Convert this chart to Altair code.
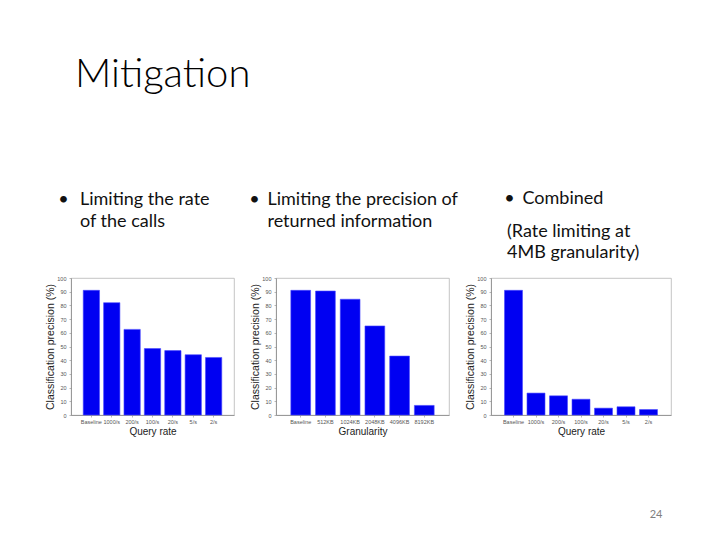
import altair as alt
import pandas as pd

# ---- data ----
rate_labels = ["Baseline", "1000/s", "200/s", "100/s", "20/s", "5/s", "2/s"]
rate_precision = [91, 82, 62.5, 48.5, 47, 44, 42]

gran_labels = ["Baseline", "512KB", "1024KB", "2048KB", "4096KB", "8192KB"]
gran_precision = [91, 90.5, 84.5, 65, 43, 7]

combined_labels = ["Baseline", "1000/s", "200/s", "100/s", "20/s", "5/s", "2/s"]
combined_precision = [91, 16, 14, 11.5, 5, 6, 4]

y_ticks = [0, 10, 20, 30, 40, 50, 60, 70, 80, 90, 100]

slide_title = "Mitigation"
bullet1 = ["Limiting the rate", "of the calls"]
bullet2 = ["Limiting the precision of", "returned information"]
bullet3 = ["Combined"]
note3 = ["(Rate limiting at", "4MB granularity)"]
page_number = "24"

TEXT_FONT = "Lato"
AX_FONT = "Liberation Sans"
PLOT_H = 137


def text_layer(text, x, y, size=18, color="#111111", align="left", line_height=21.5,
               font=TEXT_FONT, weight=400):
    return alt.Chart(alt.Data(values=[{}])).mark_text(
        text=text, align=align, baseline="alphabetic", font=font, fontWeight=weight,
        fontSize=size, color=color, lineHeight=line_height
    ).encode(x=alt.value(x), y=alt.value(y))


def panel(labels, values, xtitle, width, extra):
    df = pd.DataFrame({"cat": labels, "val": values})
    bars = alt.Chart(df).mark_bar(color="#0000f2", stroke="#4a4aff", strokeWidth=0.6).encode(
        x=alt.X("cat:N", sort=labels, title=xtitle,
                scale=alt.Scale(paddingInner=0.2, paddingOuter=0.6),
                axis=alt.Axis(labelAngle=0, labelFontSize=5.5, labelPadding=2, tickSize=2,
                              titlePadding=2, titleFontSize=10)),
        y=alt.Y("val:Q", title="Classification precision (%)",
                scale=alt.Scale(domain=[0, 100], nice=False),
                axis=alt.Axis(values=y_ticks, labelFontSize=5.5, labelPadding=3, tickSize=2,
                              titlePadding=1, titleFontSize=10.5, grid=False)),
    )
    return alt.layer(bars, *extra).properties(width=width, height=PLOT_H)


p1 = panel(rate_labels, rate_precision, "Query rate", 163, [
    text_layer(slide_title, 4, -191, size=40, color="#000000", weight=300),
    text_layer("•", -7.5, -73, align="center"),
    text_layer(bullet1, 9, -73),
])

p2 = panel(gran_labels, gran_precision, "Granularity", 173, [
    text_layer("•", -21.5, -73, align="center"),
    text_layer(bullet2, -8.5, -73),
])

p3 = panel(combined_labels, combined_precision, "Query rate", 180, [
    text_layer("•", 18.5, -74, align="center"),
    text_layer(bullet3, 31.5, -74),
    text_layer(note3, 16, -41.5, line_height=21),
    text_layer(page_number, 165, 240, size=11, color="#7f7f7f", align="center"),
])

chart = alt.hconcat(p1, p2, p3, spacing=42, bounds="flush").properties(
    padding={"left": 37, "top": 46, "right": 0, "bottom": 0},
    background="white",
).configure_view(
    stroke="#b5b5b5", strokeWidth=0.8
).configure_axis(
    labelFont=AX_FONT, titleFont=AX_FONT, labelColor="#555555", titleColor="#222222",
    titleFontWeight="normal", domainColor="#8a8a8a", tickColor="#8a8a8a",
    domainWidth=0.8, tickWidth=0.6
)

chart.save("out.html", embed_options={"renderer": "svg", "actions": False})
